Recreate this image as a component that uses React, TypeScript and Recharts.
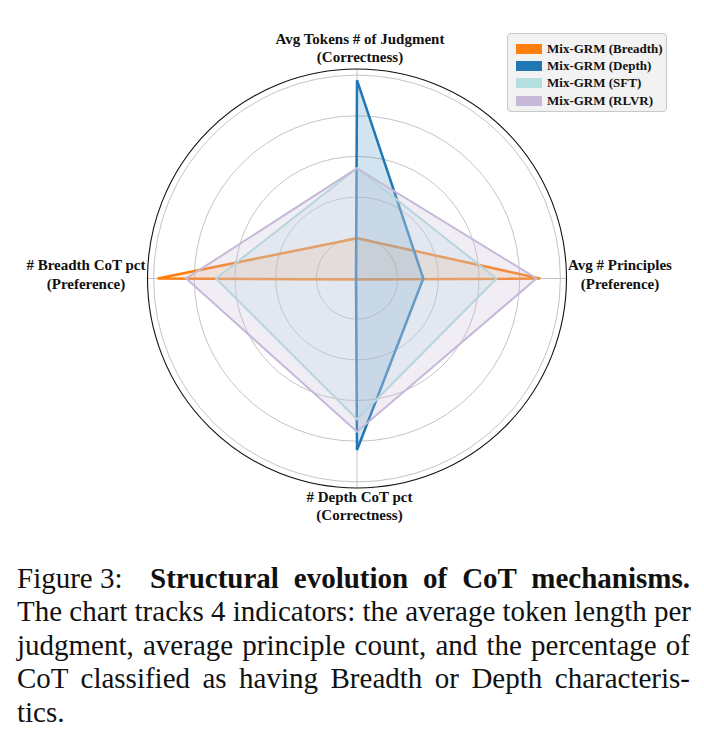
import React from "react";
import {
  RadarChart,
  Radar,
  PolarGrid,
  PolarAngleAxis,
  PolarRadiusAxis,
  Legend,
} from "recharts";

const categories = [
  "Avg Tokens # of Judgment",
  "Avg # Principles",
  "# Depth CoT pct",
  "# Breadth CoT pct",
];
const subLabels = ["(Correctness)", "(Preference)", "(Correctness)", "(Preference)"];

const breadth = [19.8, 90, 0.5, 98];
const depth = [97.5, 32.6, 84.3, 0.5];
const sft = [54.2, 68.6, 69.2, 69.3];
const rlvr = [54.2, 88.3, 75.3, 84];

const ringTicks = [20, 40, 60, 80, 100];

const seriesInfo = [
  { key: "breadth", name: "Mix-GRM (Breadth)", color: "#ff7f0e", fillOpacity: 0.15, width: 2.5 },
  { key: "depth", name: "Mix-GRM (Depth)", color: "#1f77b4", fillOpacity: 0.2, width: 2.5 },
  { key: "sft", name: "Mix-GRM (SFT)", color: "#b3dfdf", fillOpacity: 0.25, width: 2 },
  { key: "rlvr", name: "Mix-GRM (RLVR)", color: "#c6b8d8", fillOpacity: 0.25, width: 2 },
];

const data = categories.map((c, i) => ({
  subject: c,
  breadth: breadth[i],
  depth: depth[i],
  sft: sft[i],
  rlvr: rlvr[i],
}));

const serif = "Liberation Serif";

// label offsets from the tick anchor: top, right, bottom, left
const labelShift = [
  [3, -22.5],
  [45.5, -13.5],
  [2.5, 0.5],
  [-53.5, -13.5],
];

function AngleTick(props: any) {
  const { x, y, payload } = props;
  const i = categories.indexOf(payload.value);
  const cx = x + labelShift[i][0];
  const cy = y + labelShift[i][1];
  return (
    <g>
      <text x={cx} y={cy} textAnchor="middle" dominantBaseline="central" fontFamily={serif} fontWeight="bold" fontSize={15} fill="#111">
        {payload.value}
      </text>
      <text x={cx} y={cy + 18.7} textAnchor="middle" dominantBaseline="central" fontFamily={serif} fontWeight="bold" fontSize={15} fill="#111">
        {subLabels[i]}
      </text>
    </g>
  );
}

function LegendBox() {
  return (
    <div
      style={{
        width: 160,
        height: 79,
        boxSizing: "border-box",
        background: "#f2f2f2",
        border: "1px solid #c8c8c8",
        borderRadius: 4,
        padding: "6px 0 0 8px",
        fontFamily: serif,
        fontWeight: "bold",
        fontSize: 13,
        color: "#111",
      }}
    >
      {seriesInfo.map((s) => (
        <div key={s.key} style={{ display: "flex", alignItems: "center", height: 17.4 }}>
          <span style={{ display: "inline-block", width: 26, height: 10, background: s.color, marginRight: 5 }} />
          <span>{s.name}</span>
        </div>
      ))}
    </div>
  );
}

const captionLine: React.CSSProperties = {
  textAlign: "justify",
  textAlignLast: "justify",
  whiteSpace: "nowrap",
  height: 33.5,
};

export default function App() {
  return (
    <div style={{ position: "absolute", left: 0, top: 0, width: 704, height: 744, background: "#fff" }}>
      <RadarChart
        width={704}
        height={540}
        data={data}
        cx={357}
        cy={278.5}
        outerRadius={209.5}
        startAngle={90}
        endAngle={-270}
        margin={{ top: 0, right: 0, bottom: 0, left: 0 }}
      >
        <PolarGrid gridType="circle" stroke="#b5b5b5" strokeWidth={0.8} />
        <PolarGrid gridType="circle" radialLines={false} polarRadius={[209.5]} stroke="#111" strokeWidth={1.1} />
        <PolarAngleAxis dataKey="subject" tick={<AngleTick />} tickLine={false} axisLine={false} />
        <PolarRadiusAxis domain={[0, 103]} ticks={ringTicks as any} tick={false} axisLine={false} angle={90} />
        {seriesInfo.map((s) => (
          <Radar
            key={s.key}
            name={s.name}
            dataKey={s.key}
            stroke={s.color}
            strokeWidth={s.width}
            fill={s.color}
            fillOpacity={s.fillOpacity}
            dot={false}
            isAnimationActive={false}
          />
        ))}
        <Legend
          content={() => <LegendBox />}
          wrapperStyle={{ position: "absolute", top: 33, left: 507, width: 160 }}
        />
      </RadarChart>
      <div
        style={{
          position: "absolute",
          left: 17,
          top: 561.5,
          width: 673,
          fontFamily: serif,
          fontSize: 29,
          lineHeight: "33.5px",
          color: "#111",
        }}
      >
        <div style={{ position: "relative", height: 33.5, whiteSpace: "nowrap" }}>
          <span>Figure 3:</span>
          <b style={{ position: "absolute", left: 133, width: 540, textAlign: "justify", textAlignLast: "justify", display: "inline-block" }}>
            Structural evolution of CoT mechanisms.
          </b>
        </div>
        <div style={captionLine}>The chart tracks 4 indicators: the average token length per</div>
        <div style={captionLine}>judgment, average principle count, and the percentage of</div>
        <div style={captionLine}>CoT classified as having Breadth or Depth characteris-</div>
        <div style={{ height: 33.5 }}>tics.</div>
      </div>
    </div>
  );
}
